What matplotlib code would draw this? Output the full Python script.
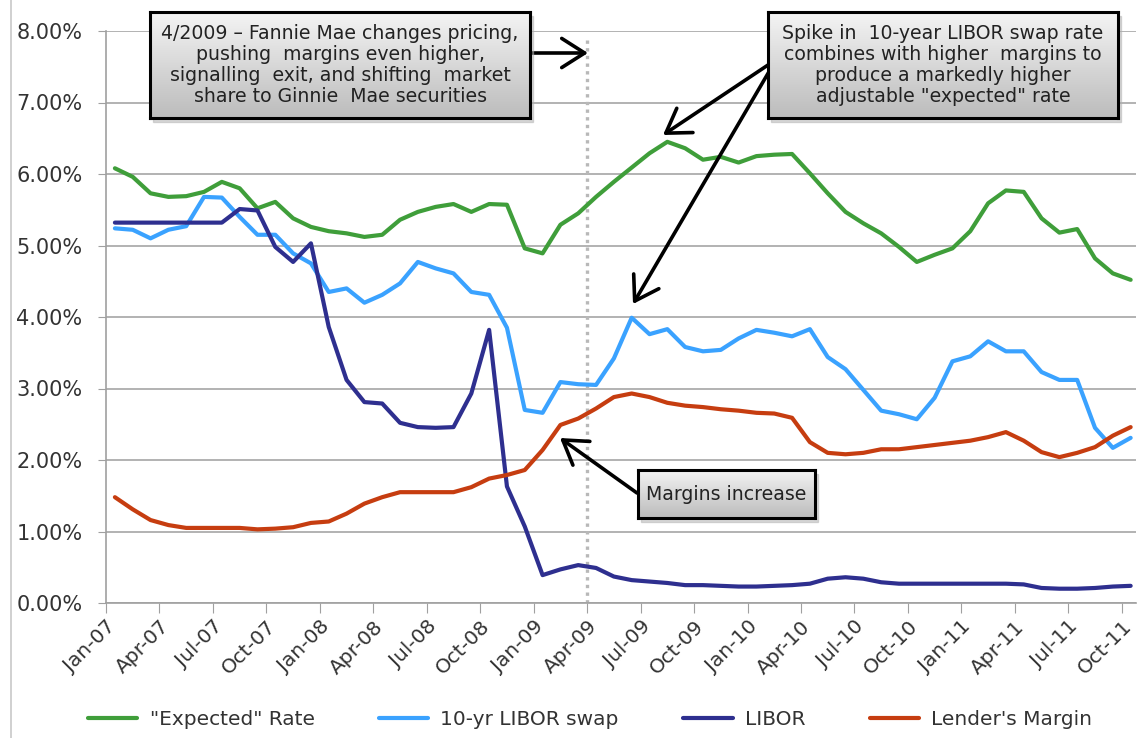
import numpy as np
import matplotlib
matplotlib.use("Agg")
import matplotlib.pyplot as plt
import matplotlib.transforms as mtransforms
from matplotlib.colors import LinearSegmentedColormap
from matplotlib.patches import Rectangle
from matplotlib.ticker import FuncFormatter

# ---------------- data (monthly, Jan-07 .. Oct-11) ----------------
expected_rate = [6.08, 5.96, 5.73, 5.68, 5.69, 5.75, 5.89, 5.80, 5.52, 5.61,
                 5.38, 5.26, 5.20, 5.17, 5.12, 5.15, 5.36, 5.47, 5.54, 5.58,
                 5.47, 5.58, 5.57, 4.96, 4.89, 5.29, 5.45, 5.68, 5.89, 6.09,
                 6.29, 6.45, 6.36, 6.20, 6.24, 6.16, 6.25, 6.27, 6.28, 6.01,
                 5.73, 5.47, 5.31, 5.17, 4.98, 4.77, 4.87, 4.96, 5.20, 5.59,
                 5.77, 5.75, 5.38, 5.18, 5.23, 4.82, 4.61, 4.52]
libor_swap = [5.24, 5.22, 5.10, 5.22, 5.27, 5.68, 5.67, 5.40, 5.15, 5.15,
              4.89, 4.75, 4.35, 4.40, 4.20, 4.31, 4.47, 4.77, 4.68, 4.61,
              4.35, 4.31, 3.85, 2.70, 2.66, 3.09, 3.06, 3.05, 3.42, 3.99,
              3.76, 3.83, 3.58, 3.52, 3.54, 3.70, 3.82, 3.78, 3.73, 3.83,
              3.44, 3.27, 2.98, 2.69, 2.64, 2.57, 2.87, 3.38, 3.45, 3.66,
              3.52, 3.52, 3.23, 3.12, 3.12, 2.45, 2.17, 2.31]
libor = [5.32, 5.32, 5.32, 5.32, 5.32, 5.32, 5.32, 5.51, 5.49, 4.98,
         4.77, 5.03, 3.86, 3.12, 2.81, 2.79, 2.52, 2.46, 2.45, 2.46,
         2.93, 3.82, 1.63, 1.07, 0.39, 0.47, 0.53, 0.49, 0.37, 0.32,
         0.30, 0.28, 0.25, 0.25, 0.24, 0.23, 0.23, 0.24, 0.25, 0.27,
         0.34, 0.36, 0.34, 0.29, 0.27, 0.27, 0.27, 0.27, 0.27, 0.27,
         0.27, 0.26, 0.21, 0.20, 0.20, 0.21, 0.23, 0.24]
lenders_margin = [1.48, 1.31, 1.16, 1.09, 1.05, 1.05, 1.05, 1.05, 1.03, 1.04,
                  1.06, 1.12, 1.14, 1.25, 1.39, 1.48, 1.55, 1.55, 1.55, 1.55,
                  1.62, 1.74, 1.79, 1.86, 2.14, 2.49, 2.58, 2.72, 2.88, 2.93,
                  2.88, 2.80, 2.76, 2.74, 2.71, 2.69, 2.66, 2.65, 2.59, 2.25,
                  2.10, 2.08, 2.10, 2.15, 2.15, 2.18, 2.21, 2.24, 2.27, 2.32,
                  2.39, 2.27, 2.11, 2.04, 2.10, 2.18, 2.34, 2.46]
tick_labels = ["Jan-07", "Apr-07", "Jul-07", "Oct-07", "Jan-08", "Apr-08", "Jul-08",
               "Oct-08", "Jan-09", "Apr-09", "Jul-09", "Oct-09", "Jan-10", "Apr-10",
               "Jul-10", "Oct-10", "Jan-11", "Apr-11", "Jul-11", "Oct-11"]
series_names = ['"Expected" Rate', "10-yr LIBOR swap", "LIBOR", "Lender's Margin"]
series_colors = ["#3f9e3a", "#3aa2ff", "#2e2f8f", "#c63d10"]
event_month = 27  # Apr-09

# ---------------- figure ----------------
W, H = 1137, 738
fig = plt.figure(figsize=(W / 100, H / 100), dpi=100)
plt.rcParams['font.family'] = ['DejaVu Sans']

left_px, bottom_px, top_px = 106, 603, 31
xmax = 57.8
px_per_month = 17.82
ax = fig.add_axes([left_px / W, 1 - bottom_px / H,
                   xmax * px_per_month / W, (bottom_px - top_px) / H])

x = np.arange(len(expected_rate)) + 0.5
for vals, name, col in zip([expected_rate, libor_swap, libor, lenders_margin],
                           series_names, series_colors):
    ax.plot(x, vals, color=col, lw=3.0, label=name, solid_joinstyle='round',
            solid_capstyle='round', zorder=3)

ax.set_xlim(0, xmax)
ax.set_ylim(0, 8)
ax.set_yticks(np.arange(0, 9, 1))
ax.yaxis.set_major_formatter(FuncFormatter(lambda v, p: f"{v:.2f}%"))
ax.set_xticks(np.arange(0, 58, 3))
ax.set_xticklabels(tick_labels, rotation=45, ha='right', va='top',
                   rotation_mode='anchor')
offset = mtransforms.ScaledTranslation(5 / 100, -3 / 100, fig.dpi_scale_trans)
for lbl in ax.get_xticklabels():
    lbl.set_transform(lbl.get_transform() + offset)
ax.grid(axis='y', color='#a6a6a6', lw=1.2, zorder=0)
ax.set_axisbelow(True)
for s in ['top', 'right']:
    ax.spines[s].set_visible(False)
for s in ['left', 'bottom']:
    ax.spines[s].set_color('#a0a0a0')
    ax.spines[s].set_linewidth(1.2)
ax.tick_params(axis='y', length=6, color='#a0a0a0', labelsize=15,
               labelcolor='#333333', pad=11)
ax.tick_params(axis='x', length=7, color='#a0a0a0', labelsize=14.5,
               labelcolor='#333333', pad=3)

ax.plot([event_month, event_month], [0, 7.9], color='#b8b8b8', lw=2.4,
        ls=(0, (1, 1.3)), zorder=2)

# legend
fig.legend(*ax.get_legend_handles_labels(), loc='lower left', ncol=4,
           bbox_to_anchor=(70 / W, -0.013), frameon=False, fontsize=14.5,
           handlelength=2.45, columnspacing=3.2, handletextpad=0.6,
           labelcolor='#333333')

# chart area left border
fig.add_artist(plt.Line2D([10.5 / W, 10.5 / W], [0, 1], color='#c8c8c8', lw=1.2))

# ---------------- callout boxes ----------------
grad_cmap = LinearSegmentedColormap.from_list('g', ['#f4f4f4', '#bcbcbc'])


def callout(x0, y0, x1, y1, text, fs):
    fig.add_artist(Rectangle(((x0 + 3) / W, 1 - (y1 + 4) / H), (x1 - x0) / W,
                             (y1 - y0) / H, transform=fig.transFigure,
                             color='#b0b0b0', alpha=0.5, zorder=4))
    bax = fig.add_axes([x0 / W, 1 - y1 / H, (x1 - x0) / W, (y1 - y0) / H], zorder=5)
    g = np.linspace(0, 1, 100).reshape(-1, 1)
    bax.imshow(g, aspect='auto', cmap=grad_cmap, extent=[0, 1, 0, 1], origin='upper')
    bax.set_xticks([])
    bax.set_yticks([])
    for s in bax.spines.values():
        s.set_linewidth(2.2)
        s.set_color('black')
    bax.text(0.5, 0.5, text, ha='center', va='center', fontsize=fs,
             color='#222222', linespacing=1.15, transform=bax.transAxes)


callout(150, 12, 530, 118,
        "4/2009 \u2013 Fannie Mae changes pricing,\npushing  margins even higher,\n"
        "signalling  exit, and shifting  market\nshare to Ginnie  Mae securities", 13.6)
callout(768, 12, 1118, 118,
        "Spike in  10-year LIBOR swap rate\ncombines with higher  margins to\n"
        "produce a markedly higher\nadjustable \"expected\" rate", 13.6)
callout(638, 470, 815, 518, "Margins increase", 13.6)

# ---------------- arrows ----------------
def arrow(tail, head):
    ax.annotate('', xy=(head[0], H - head[1]), xytext=(tail[0], H - tail[1]),
                xycoords='figure pixels', textcoords='figure pixels',
                arrowprops=dict(arrowstyle='->,head_length=0.55,head_width=0.35',
                                lw=2.6, color='black', mutation_scale=30,
                                shrinkA=0, shrinkB=0),
                annotation_clip=False, zorder=6)


arrow((532, 53), (588, 53))
arrow((768, 65), (663, 135))
arrow((770, 70), (633, 304))
arrow((637, 493), (560, 438))

fig.savefig("out.png", dpi=100)
